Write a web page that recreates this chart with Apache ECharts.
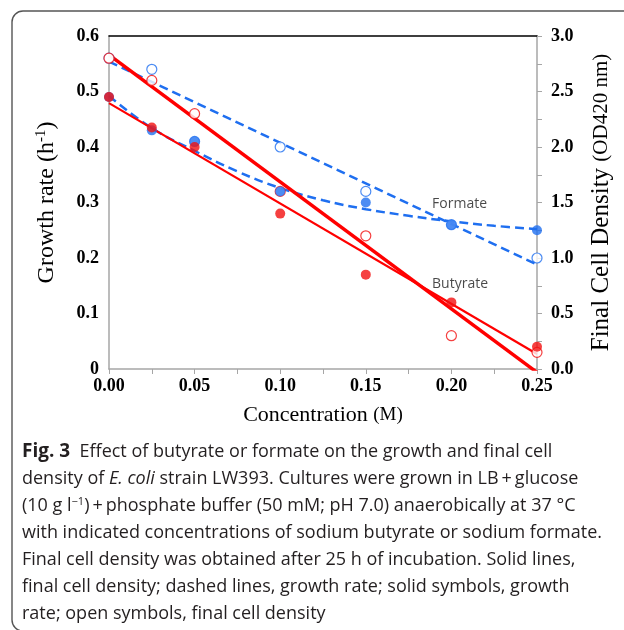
<!DOCTYPE html>
<html><head><meta charset="utf-8">
<script src="https://cdn.jsdelivr.net/npm/echarts@6/dist/echarts.min.js"></script>
<style>html,body{margin:0;padding:0;background:#fff}#c{width:624px;height:630px}</style>
</head><body><div id="c"></div>
<script>
// ---- data ----
const concentrations   = [0, 0.025, 0.05, 0.1, 0.15, 0.2, 0.25];
const butyrateGrowth   = [0.49, 0.435, 0.40, 0.28, 0.17, 0.12, 0.04];   // solid red (left axis)
const butyrateDensity  = [2.80, 2.60, 2.30, 1.60, 1.20, 0.30, 0.15];   // open red (right axis)
const formateGrowth    = [0.49, 0.43, 0.41, 0.32, 0.30, 0.26, 0.25];   // solid blue (left axis)
const formateDensity   = [2.80, 2.70, 2.05, 2.00, 1.60, 1.30, 1.00];   // open blue (right axis)

// trend lines as drawn in the figure
const butyrateDensityFitX = [0, 0.25];
const butyrateDensityFit  = [2.83, -0.03];
const butyrateGrowthFitX  = [0, 0.25];
const butyrateGrowthFit   = [0.479, 0.027];
const formateDensityFitX  = [0, 0.25];
const formateDensityFit   = [2.77, 0.94];
const formateGrowthFitX   = [0, 0.025, 0.05, 0.075, 0.1, 0.125, 0.15, 0.175, 0.2, 0.225, 0.25];
const formateGrowthFit    = [0.492, 0.434, 0.393, 0.356, 0.326, 0.304, 0.288, 0.276, 0.266, 0.258, 0.252];

// tick labels
const xTickLabels     = ['0.00', '0.05', '0.10', '0.15', '0.20', '0.25'];
const leftTickLabels  = ['0', '0.1', '0.2', '0.3', '0.4', '0.5', '0.6'];
const rightTickLabels = ['0.0', '0.5', '1.0', '1.5', '2.0', '2.5', '3.0'];

// in-plot annotations
const annotationNames = ['Formate', 'Butyrate'];
const annotationX     = [0.1887, 0.1887];
const annotationY     = [0.297, 0.153];

const captionLines = [
  '{b|Fig. 3}  Effect of butyrate or formate on the growth and final cell',
  'density of {i|E. coli} strain LW393. Cultures were grown in LB\u2009+\u2009glucose',
  '(10 g l{sup|\u22121})\u2009+\u2009phosphate buffer (50 mM; pH 7.0) anaerobically at 37 \u00b0C',
  'with indicated concentrations of sodium butyrate or sodium formate.',
  'Final cell density was obtained after 25 h of incubation. Solid lines,',
  'final cell density; dashed lines, growth rate; solid symbols, growth',
  'rate; open symbols, final cell density'
];

// ---- styling ----
const RED = '#ff0000', RED_DOT = '#f21010', BLUE = '#1f6ff0';
const AX = '#a6a6a6';
const SERIF = '"Liberation Serif", "Times New Roman", serif';
const SANS = '"Open Sans", "Noto Sans", sans-serif';
const zip = (xs, ys) => xs.map((x, i) => [x, ys[i]]);
const tickLabelStyle = { fontFamily: SERIF, fontWeight: 'bold', fontSize: 18, color: '#000' };

const chart = echarts.init(document.getElementById('c'), null, { renderer: 'canvas' });

const capFont = 18;
const graphics = [
  { type: 'rect', shape: { x: 12, y: 11, width: 700, height: 620, r: 11 },
    style: { fill: 'none', stroke: '#555', lineWidth: 1.4 }, z: 100 }
];
captionLines.forEach((t, i) => {
  graphics.push({
    type: 'text', x: 22, y: 452 + i * 27, z: 100,
    style: {
      text: t, fill: '#231f20', fontFamily: SANS, fontSize: capFont, verticalAlign: 'middle',
      rich: {
        b: { fontFamily: SANS, fontSize: capFont + 1, fontWeight: 'bold', fill: '#231f20' },
        i: { fontFamily: SANS, fontSize: capFont, fontStyle: 'italic', fill: '#231f20' },
        sup: { fontFamily: SANS, fontSize: 11, fill: '#231f20', verticalAlign: 'top', padding: [0, 0, 8, 0] }
      }
    }
  });
});

const openSym = (color) => ({ color: '#fff', borderColor: color, borderWidth: 1.2 });

chart.setOption({
  animation: false,
  backgroundColor: '#fff',
  grid: { left: 109, right: 87, top: 36, bottom: 261, containLabel: false },
  xAxis: [{
    type: 'value', min: 0, max: 0.25, interval: 0.05, position: 'bottom',
    axisLine: { show: true, onZero: false, lineStyle: { color: AX, width: 1.5 } },
    axisTick: { show: true, inside: false, length: 5, lineStyle: { color: AX, width: 1 } },
    minorTick: { show: true, splitNumber: 2, length: 5, lineStyle: { color: AX, width: 1 } },
    splitLine: { show: false }, minorSplitLine: { show: false },
    axisLabel: Object.assign({ margin: 8, formatter: (v) => xTickLabels[Math.round(v / 0.05)] }, tickLabelStyle),
    name: 'Concentration {s|(M)}', nameLocation: 'middle', nameGap: 35,
    nameTextStyle: { fontFamily: SERIF, fontSize: 22, color: '#000',
      rich: { s: { fontFamily: SERIF, fontSize: 19, color: '#000' } } }
  }, {
    type: 'value', min: 0, max: 0.25, position: 'top',
    axisLine: { show: true, onZero: false, lineStyle: { color: '#000', width: 1.5 } },
    axisTick: { show: false }, axisLabel: { show: false }, splitLine: { show: false }
  }],
  yAxis: [{
    type: 'value', min: 0, max: 0.6, interval: 0.1, position: 'left',
    axisLine: { show: true, onZero: false, lineStyle: { color: AX, width: 1.5 } },
    axisTick: { show: false }, splitLine: { show: false },
    axisLabel: Object.assign({ margin: 10, formatter: (v) => leftTickLabels[Math.round(v / 0.1)] }, tickLabelStyle),
    name: 'Growth rate (h{sup|-1})', nameLocation: 'middle', nameRotate: 90, nameGap: 50,
    nameTextStyle: { fontFamily: SERIF, fontSize: 24, color: '#000',
      rich: { sup: { fontFamily: SERIF, fontSize: 15, color: '#000', verticalAlign: 'top', padding: [0, 0, 10, 0] } } }
  }, {
    type: 'value', min: 0, max: 3, interval: 0.5, position: 'right',
    axisLine: { show: true, onZero: false, lineStyle: { color: AX, width: 1.5 } },
    axisTick: { show: true, inside: false, length: 5, lineStyle: { color: AX, width: 1 } },
    minorTick: { show: true, splitNumber: 2, length: 5, lineStyle: { color: AX, width: 1 } },
    splitLine: { show: false }, minorSplitLine: { show: false },
    axisLabel: Object.assign({ margin: 14, formatter: (v) => rightTickLabels[Math.round(v / 0.5)] }, tickLabelStyle),
    name: 'Final Cell Density {s|(OD420 nm)}', nameLocation: 'middle', nameRotate: 90, nameGap: 52,
    nameTextStyle: { fontFamily: SERIF, fontSize: 25, color: '#000',
      rich: { s: { fontFamily: SERIF, fontSize: 21, color: '#000' } } }
  }],
  graphic: graphics,
  series: [
    { name: 'Formate density fit', type: 'line', yAxisIndex: 1, data: zip(formateDensityFitX, formateDensityFit),
      symbol: 'none', lineStyle: { color: BLUE, width: 2.5, type: [9, 5] }, z: 2, silent: true },
    { name: 'Formate growth fit', type: 'line', yAxisIndex: 0, data: zip(formateGrowthFitX, formateGrowthFit),
      smooth: 0.4, symbol: 'none', lineStyle: { color: BLUE, width: 2.5, type: [9, 5] }, z: 2, silent: true },
    { name: 'Butyrate density fit', type: 'line', yAxisIndex: 1, data: zip(butyrateDensityFitX, butyrateDensityFit),
      symbol: 'none', clip: true, lineStyle: { color: RED, width: 3.5 }, z: 3, silent: true },
    { name: 'Butyrate growth fit', type: 'line', yAxisIndex: 0, data: zip(butyrateGrowthFitX, butyrateGrowthFit),
      symbol: 'none', lineStyle: { color: RED, width: 2.2 }, z: 3, silent: true },
    { name: 'Formate density', type: 'scatter', yAxisIndex: 1, data: zip(concentrations, formateDensity),
      symbol: 'circle', symbolSize: 10, itemStyle: openSym(BLUE), z: 4 },
    { name: 'Butyrate density', type: 'scatter', yAxisIndex: 1, data: zip(concentrations, butyrateDensity),
      symbol: 'circle', symbolSize: 10, itemStyle: openSym(RED_DOT), z: 4 },
    { name: 'Formate growth', type: 'scatter', yAxisIndex: 0, data: zip(concentrations, formateGrowth),
      symbol: 'circle', symbolSize: 10, itemStyle: { color: BLUE }, z: 5 },
    { name: 'Butyrate growth', type: 'scatter', yAxisIndex: 0, data: zip(concentrations, butyrateGrowth),
      symbol: 'circle', symbolSize: 10, itemStyle: { color: RED_DOT }, z: 5 },
    { name: 'labels', type: 'scatter', yAxisIndex: 0, symbolSize: 0, silent: true, z: 6,
      data: annotationNames.map((n, i) => ({ name: n, value: [annotationX[i], annotationY[i]] })),
      label: { show: true, position: 'right', distance: 0, formatter: '{b}',
        fontFamily: SANS, fontSize: 14, color: '#1a1a1a' } }
  ]
});
</script>
</body></html>
